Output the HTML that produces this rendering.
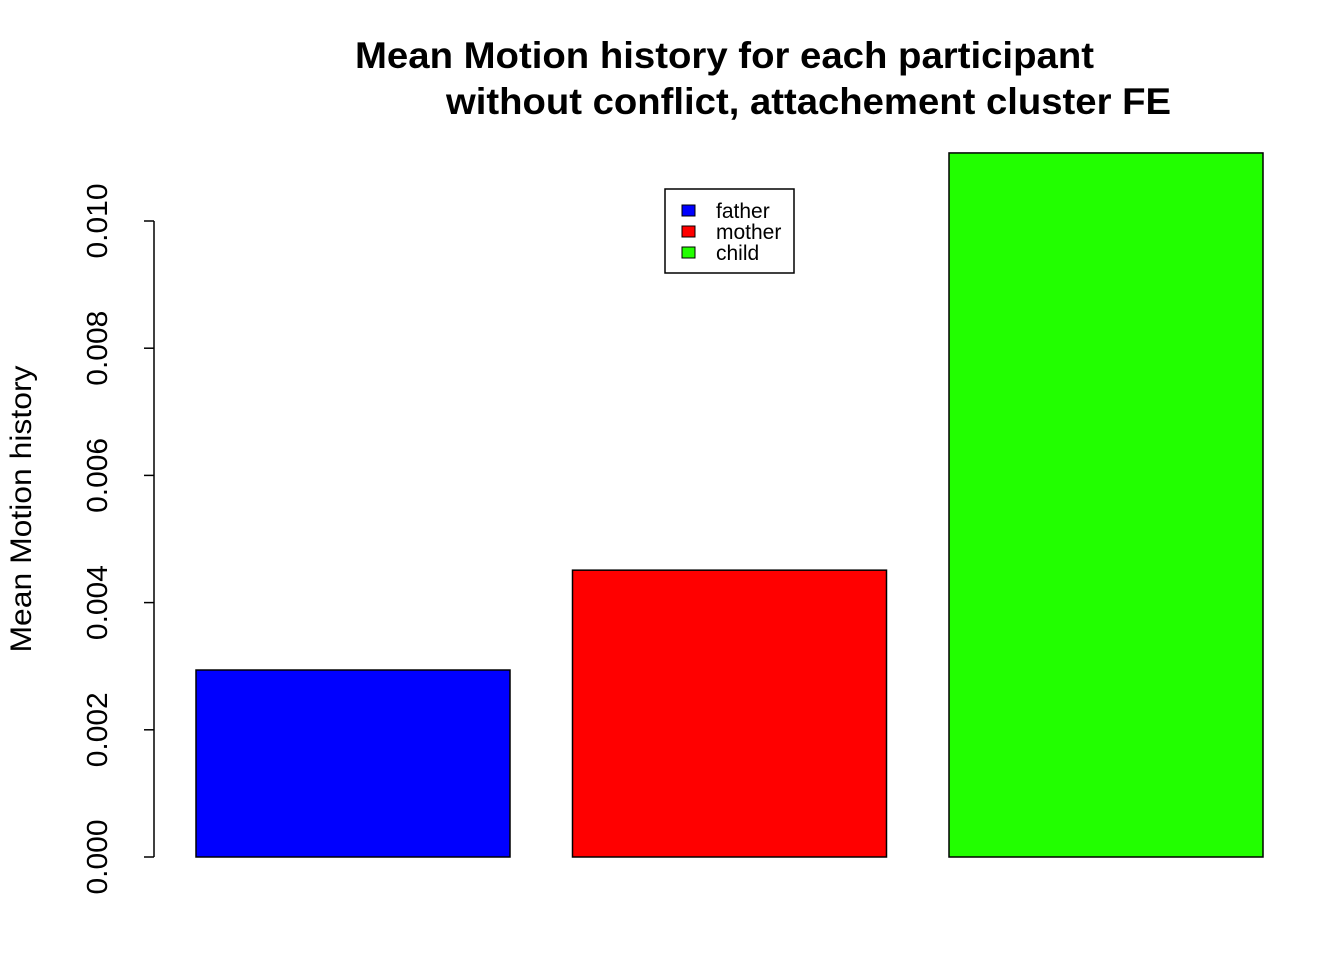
<!DOCTYPE html>
<html><head><meta charset="utf-8"><style>
html,body{margin:0;padding:0;background:#fff;}
svg{display:block;font-family:"Liberation Sans",sans-serif;}
</style></head><body>
<svg id="chart" width="1344" height="960">
<text x="355" y="68" font-size="37" font-weight="bold" textLength="739" lengthAdjust="spacingAndGlyphs">Mean Motion history for each participant</text>
<text x="446" y="114" font-size="37" font-weight="bold" textLength="725" lengthAdjust="spacingAndGlyphs">without conflict, attachement cluster FE</text>
<text transform="translate(31,509) rotate(-90)" text-anchor="middle" font-size="30" textLength="287" lengthAdjust="spacingAndGlyphs">Mean Motion history</text>
<g id="axis"></g>
<g id="bars"></g>
<g>
<rect x="665" y="189" width="129" height="84" fill="#fff" stroke="#000" stroke-width="1.5"/>
<g id="legend-items"></g>
</g>
</svg>
<script>
const categories = ["father","mother","child"];
const values = [0.00294, 0.00451, 0.01107];
const colors = ["#0000ff","#ff0000","#22ff00"];
const ticks = [0,0.002,0.004,0.006,0.008,0.010];
const tickLabels = ["0.000","0.002","0.004","0.006","0.008","0.010"];
const ns="http://www.w3.org/2000/svg";
const y0=857, yScale=636/0.010;
function yPos(v){return y0 - v*yScale;}
function mk(tag,attrs,parent){const e=document.createElementNS(ns,tag);for(const k in attrs)e.setAttribute(k,attrs[k]);parent.appendChild(e);return e;}
const axis=document.getElementById('axis');
mk('line',{x1:154,x2:154,y1:yPos(ticks[0]),y2:yPos(ticks[ticks.length-1]),stroke:'#000','stroke-width':1.5},axis);
ticks.forEach((t,i)=>{
  const tl=mk('line',{x1:144,x2:154,y1:yPos(t),y2:yPos(t),stroke:'#000','stroke-width':1.5},axis);
  
  
  const tx=mk('text',{transform:`translate(107,${yPos(t)}) rotate(-90)`,'text-anchor':'middle','font-size':29,textLength:75,lengthAdjust:'spacingAndGlyphs'},axis);
  tx.textContent=tickLabels[i];
  
  
});
const bars=document.getElementById('bars');
const bw=314, gap=62.5, x0=196;
values.forEach((v,i)=>{
  const x=x0+i*(bw+gap);
  const r=mk('rect',{x:x,y:yPos(v),width:bw,height:y0-yPos(v),fill:colors[i],stroke:'#000','stroke-width':1.5},bars);
  
  
});
const li=document.getElementById('legend-items');
categories.forEach((c,i)=>{
  const yy=211+i*21;
  const s=mk('rect',{x:682,y:yy-6,width:13,height:11,fill:colors[i],stroke:'#000','stroke-width':1},li);
  
  
  const t=mk('text',{x:716,y:yy+7,'font-size':21},li);
  t.textContent=c;
  
  
});
</script>
</body></html>
